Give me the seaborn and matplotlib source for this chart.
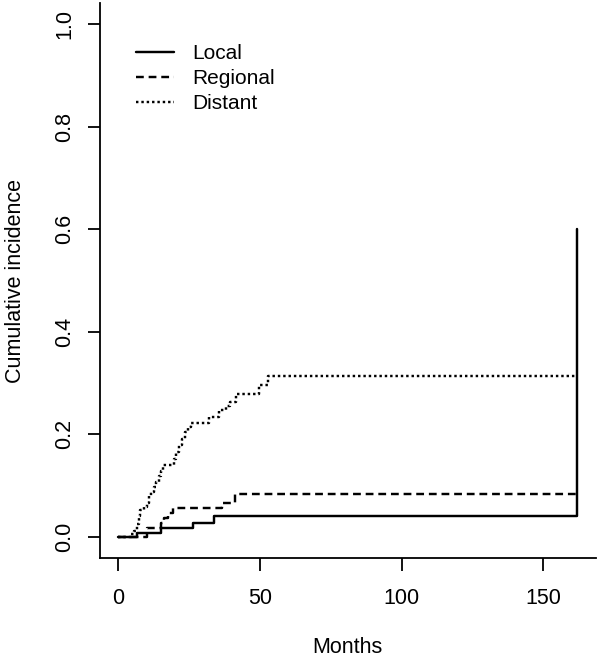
import matplotlib
matplotlib.use("Agg")
import matplotlib.pyplot as plt
import pandas as pd
import seaborn as sns

# step data (months, cumulative incidence)
local_t = [0, 6.6, 15.0, 26.4, 33.6, 162.0]
local_y = [0.0, 0.008, 0.018, 0.028, 0.041, 0.60]

regional_t = [0, 10.2, 15.0, 16.2, 17.4, 19.2, 36.6, 41.3, 162.0]
regional_y = [0.0, 0.017, 0.027, 0.037, 0.047, 0.057, 0.067, 0.084, 0.084]

distant_t = [0, 4.5, 5.5, 6.5, 7.2, 7.8, 9.0, 10.0, 10.7, 11.5, 12.5, 13.3,
             14.2, 15.0, 15.6, 19.5, 20.5, 21.3, 22.3, 23.5, 24.6, 25.8,
             32.0, 35.4, 38.0, 39.5, 41.5, 49.5, 53.0, 162.0]
distant_y = [0.0, 0.005, 0.012, 0.025, 0.04, 0.053, 0.059, 0.066, 0.079,
             0.088, 0.098, 0.108, 0.118, 0.128, 0.14, 0.153, 0.165, 0.18,
             0.192, 0.205, 0.214, 0.222, 0.234, 0.248, 0.256, 0.264, 0.279,
             0.296, 0.314, 0.314]

groups = ["Local", "Regional", "Distant"]
x_ticks = [0, 50, 100, 150]
y_ticks = [0.0, 0.2, 0.4, 0.6, 0.8, 1.0]

sns.set_style("white")
plt.rcParams["font.family"] = ["Liberation Sans", "DejaVu Sans"]

fig = plt.figure(figsize=(6, 6.58), dpi=100)
ax = fig.add_axes([0.1667, 0.1527, 0.8258, 0.842])

styles = {"Local": "-", "Regional": (0, (3.2, 2.0)), "Distant": (0, (1, 1.2))}
data = {"Local": (local_t, local_y),
        "Regional": (regional_t, regional_y),
        "Distant": (distant_t, distant_y)}

for g in groups:
    t, y = data[g]
    df = pd.DataFrame({"Months": t, "CI": y})
    sns.lineplot(data=df, x="Months", y="CI", ax=ax, color="black",
                 linewidth=1.75, linestyle=styles[g], drawstyle="steps-post",
                 label=g, estimator=None, sort=False)

ax.set_xlim(-6.48, 168.48)
ax.set_ylim(-0.04, 1.04)
ax.set_xticks(x_ticks)
ax.set_xticklabels([str(v) for v in x_ticks])
ax.set_yticks(y_ticks)
ax.set_yticklabels([f"{v:.1f}" for v in y_ticks], rotation=90, va="center")

for s in ["top", "right"]:
    ax.spines[s].set_visible(False)
for s in ["left", "bottom"]:
    ax.spines[s].set_color("black")
    ax.spines[s].set_linewidth(1.3)

ax.tick_params(axis="both", direction="out", length=9, width=1.3,
               color="black", labelsize=15.5, labelcolor="black",
               bottom=True, left=True)
ax.tick_params(axis="x", pad=13)
ax.tick_params(axis="y", pad=9)

ax.set_xlabel("Months", fontsize=15.5, labelpad=20, color="black")
ax.set_ylabel("Cumulative incidence", fontsize=15.5, labelpad=20,
              color="black")

leg = ax.legend(loc="upper left", bbox_to_anchor=(0.055, 0.942),
                frameon=False, fontsize=15, handlelength=1.85,
                handletextpad=0.85, labelspacing=0.3, borderaxespad=0)
for txt in leg.get_texts():
    txt.set_color("black")

fig.savefig("out.png", dpi=100)
